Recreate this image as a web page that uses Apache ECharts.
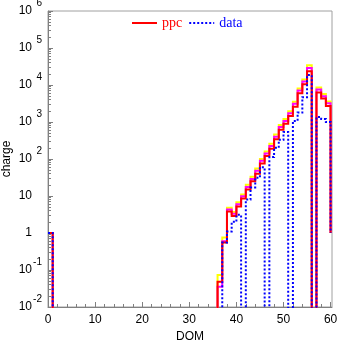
<!DOCTYPE html>
<html><head><meta charset="utf-8">
<script src="https://cdn.jsdelivr.net/npm/echarts@6/dist/echarts.min.js"></script>
<style>html,body{margin:0;padding:0;background:#fff}#c{width:337px;height:344px}</style>
</head><body><div id="c"></div>
<script>
// DOM index (x, left edge of each bin)
const dom = [0,1,2,3,4,5,6,7,8,9,10,11,12,13,14,15,16,17,18,19,20,21,22,23,24,25,26,27,28,29,30,31,32,33,34,35,36,37,38,39,40,41,42,43,44,45,46,47,48,49,50,51,52,53,54,55,56,57,58,59,60];
// ppc simulation (red)
const ppc = [1,0,0,0,0,0,0,0,0,0,0,0,0,0,0,0,0,0,0,0,0,0,0,0,0,0,0,0,0,0,0,0,0,0,0,0,
  0.048,0.55,3.8,2.9,5.2,8.5,15,25,40,76,120,190,340,620,900,1450,2600,6000,10500,23500,0,6300,4300,2700,1];
// ppc variant, upper (yellow)
const ppcHi = [1,0,0,0,0,0,0,0,0,0,0,0,0,0,0,0,0,0,0,0,0,0,0,0,0,0,0,0,0,0,0,0,0,0,0,0,
  0.073,0.75,4.8,3.7,6.8,11,20,33,55,100,160,260,460,830,1200,1950,3500,8000,14000,34000,0,8500,5700,3600,1];
// ppc variant, middle (magenta)
const ppcMid = [1,0,0,0,0,0,0,0,0,0,0,0,0,0,0,0,0,0,0,0,0,0,0,0,0,0,0,0,0,0,0,0,0,0,0,0,
  0.035,0.6,4.3,3.3,6.0,9.8,17.5,29,48,90,140,225,400,730,1070,1720,3100,7100,12400,29000,0,7500,5000,3200,1];
// measured data (blue dotted)
const data = [1,0,0,0,0,0,0,0,0,0,0,0,0,0,0,0,0,0,0,0,0,0,0,0,0,0,0,0,0,0,0,0,0,0,0,0,
  0,0.55,1.1,2.0,3.1,0,8,17,31,60,0,113,200,330,540,0,1070,1800,4700,18600,0,1360,1200,1000,1];
const xTickValues = [0,10,20,30,40,50,60];
const yDecades = [-2,-1,0,1,2,3,4,5,6];
const yExponentLabels = [-2,-1,2,3,4,5,6];   // decades written as 10 with a superscript

const FLOOR = 1e-6;
const pts = arr => dom.map((d, i) => [d, arr[i] > 0 ? arr[i] : FLOOR]);
const minorX = [];
for (let v = 0; v <= 60; v += 2) if (v % 10 !== 0) minorX.push(v);
const minorY = [];
for (let e = yDecades[0]; e < yDecades[yDecades.length - 1]; e++)
  for (let k = 2; k <= 9; k++) minorY.push(e + Math.log10(k));

const AX = '#808080';
const F = 'Liberation Sans';
const G = {left: 48, top: 11, right: 5, bottom: 37, outerBoundsMode: 'none', containLabel: false};

function stepSeries(name, arr, color, width, z, dash) {
  return {
    name, type: 'line', step: 'end', data: pts(arr), xAxisIndex: 0, yAxisIndex: 0,
    symbol: 'none', showSymbol: false, z, clip: true, silent: true,
    lineStyle: {color, width, type: dash || 'solid', cap: 'butt', join: 'miter'},
    itemStyle: {color}
  };
}

const chart = echarts.init(document.getElementById('c'), null, {renderer: 'canvas'});
chart.setOption({
  animation: false,
  backgroundColor: '#fff',
  grid: [
    Object.assign({show: true, borderColor: '#a0a0a0', borderWidth: 1, backgroundColor: 'transparent'}, G),
    Object.assign({}, G)
  ],
  legend: {
    data: [{name: 'ppc', textStyle: {color: '#ff0000'}}, {name: 'data', textStyle: {color: '#0000ff'}}],
    left: 131, top: 16, padding: 0, itemWidth: 25, itemHeight: 14, itemGap: 6,
    itemStyle: {opacity: 0},
    textStyle: {fontFamily: 'Liberation Serif', fontSize: 14},
    selectedMode: false
  },
  xAxis: [{
    gridIndex: 0, type: 'value', min: 0, max: 60.3,
    axisLine: {show: true, onZero: false, lineStyle: {color: AX, width: 1}},
    axisTick: {show: true, inside: true, length: 5, customValues: xTickValues, lineStyle: {color: AX}},
    axisLabel: {customValues: xTickValues, color: '#000', fontSize: 12, fontFamily: F, margin: 7},
    splitLine: {show: false},
    name: 'DOM', nameLocation: 'middle', nameGap: 24,
    nameTextStyle: {color: '#000', fontSize: 12, fontFamily: F}
  }, {
    gridIndex: 1, type: 'value', min: 0, max: 60.3,
    axisLine: {show: false, onZero: false},
    axisTick: {show: true, inside: true, length: 3, customValues: minorX, lineStyle: {color: AX}},
    axisLabel: {show: false}, splitLine: {show: false}
  }],
  yAxis: [{
    gridIndex: 0, type: 'log', logBase: 10, min: 0.01, max: 1e6, splitNumber: 8,
    axisLine: {show: true, onZero: false, lineStyle: {color: AX, width: 1}},
    axisTick: {show: true, inside: true, length: 5, lineStyle: {color: AX}},
    axisLabel: {
      margin: 16, color: '#000', fontSize: 12, fontFamily: F,
      formatter: v => (Math.round(Math.log10(v)) === 0 ? '1' : '10'),
      padding: [2, 0, 0, 0]
    },
    splitLine: {show: false}, minorTick: {show: false},
    name: 'charge', nameLocation: 'middle', nameGap: 35, nameMoveOverlap: false,
    nameTextStyle: {color: '#000', fontSize: 12, fontFamily: F}
  }, {
    gridIndex: 1, type: 'value', min: yDecades[0], max: yDecades[yDecades.length - 1],
    axisLine: {show: false, onZero: false},
    axisTick: {show: true, inside: true, length: 3, customValues: minorY, lineStyle: {color: AX}},
    axisLabel: {
      customValues: yExponentLabels, formatter: v => String(v),
      margin: 6, color: '#000', fontSize: 10, fontFamily: F,
      verticalAlign: 'bottom', lineHeight: 16
    },
    splitLine: {show: false}
  }],
  series: [
    stepSeries('hi', ppcHi, '#ffff00', 2, 1),
    stepSeries('mid', ppcMid, '#ff00ff', 2, 2),
    stepSeries('ppc', ppc, '#ff0000', 2, 3),
    stepSeries('data', data, '#0000ff', 2, 4, [2, 2])
  ]
});
</script>
</body></html>
